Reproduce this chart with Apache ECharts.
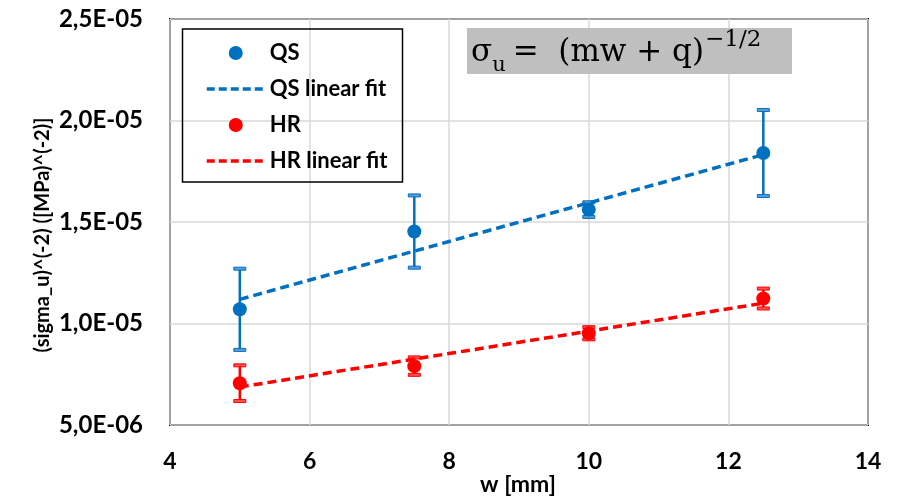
<!DOCTYPE html>
<html>
<head>
<meta charset="utf-8">
<script src="https://cdn.jsdelivr.net/npm/echarts@6/dist/echarts.min.js"></script>
<style>
html,body{margin:0;padding:0;background:#fff;}
#chart{width:897px;height:496px;}
</style>
</head>
<body>
<div id="chart"></div>
<script>
// ---- data ----
const widths = [5, 7.5, 10, 12.5];
const qsMean = [1.07e-5, 1.453e-5, 1.561e-5, 1.84e-5];
const qsErr  = [2.0e-6, 1.78e-6, 0.36e-6, 2.12e-6];
const hrMean = [7.06e-6, 7.9e-6, 9.52e-6, 1.123e-5];
const hrErr  = [0.88e-6, 0.43e-6, 0.3e-6, 0.49e-6];
const fitX   = [5, 12.5];
const qsFitY = [1.119e-5, 1.832e-5];
const hrFitY = [6.87e-6, 1.10e-5];
const xTicks = {min: 4, max: 14, interval: 2};
const yTicks = {min: 5e-6, max: 2.5e-5, interval: 5e-6};
const legendNames = ['QS', 'QS linear fit', 'HR', 'HR linear fit'];
const xName = 'w [mm]';
const yName = '(sigma_u)^(-2) ([MPa)^(-2)]';

const BLUE = '#0070C0', RED = '#FF0000';
const FONT = 'Lato';

function pairs(xs, ys) { return xs.map((x, i) => [x, ys[i]]); }
function errData(xs, m, e) { return xs.map((x, i) => [x, m[i] - e[i], m[i] + e[i]]); }
function fmtY(v) {
  const s = v.toExponential(1);
  const parts = s.split('e');
  const ex = parseInt(parts[1], 10);
  return parts[0].replace('.', ',') + 'E' + (ex < 0 ? '-' : '+') + String(Math.abs(ex)).padStart(2, '0');
}
function errSeries(name, data, color, capFill) {
  return {
    name: name, type: 'custom', z: 3,
    renderItem: function (params, api) {
      const x = api.value(0);
      const lo = api.coord([x, api.value(1)]);
      const hi = api.coord([x, api.value(2)]);
      const hw = 6;
      return {
        type: 'group',
        children: [
          {type: 'line', shape: {x1: lo[0], y1: lo[1], x2: hi[0], y2: hi[1]}, style: {stroke: color, lineWidth: 2.5}},
          {type: 'rect', shape: {x: hi[0] - hw, y: hi[1] - 1.5, width: hw * 2, height: 3}, style: {fill: capFill, stroke: color, lineWidth: 1}},
          {type: 'rect', shape: {x: lo[0] - hw, y: lo[1] - 1.5, width: hw * 2, height: 3}, style: {fill: capFill, stroke: color, lineWidth: 1}}
        ]
      };
    },
    encode: {x: 0, y: [1, 2]},
    data: data
  };
}

// formula layout helper (text measuring only)
const mctx = document.createElement('canvas').getContext('2d');
function textW(str, font) { mctx.font = font; return mctx.measureText(str).width; }
const F_MAIN = '31px "DejaVu Serif"', F_SUB = '21px "DejaVu Serif"', F_SUP = '23px "DejaVu Serif"';
const sigX = 471;
const subX = sigX + textW('σ', F_MAIN);
const eqX = subX + textW('u', F_SUB) + 7;
const supX = eqX + textW('=  (mw + q)', F_MAIN) + 1;

const legendLine = {width: 3.5, type: [8, 4]};

const chart = echarts.init(document.getElementById('chart'));
chart.setOption({
  backgroundColor: '#fff',
  animation: false,
  grid: {left: 170, right: 29, top: 19, bottom: 71, show: true, borderColor: '#000', borderWidth: 2, backgroundColor: 'transparent'},
  xAxis: {
    type: 'value', min: xTicks.min, max: xTicks.max, interval: xTicks.interval,
    axisLine: {show: false}, axisTick: {show: false},
    splitLine: {show: true, lineStyle: {color: '#d9d9d9', width: 1.5}},
    axisLabel: {color: '#000', fontFamily: FONT, fontWeight: 'bold', fontSize: 23, margin: 25}
  },
  yAxis: {
    type: 'value', min: yTicks.min, max: yTicks.max, interval: yTicks.interval,
    axisLine: {show: false}, axisTick: {show: false},
    splitLine: {show: true, lineStyle: {color: '#d9d9d9', width: 1.5}},
    axisLabel: {color: '#000', fontFamily: FONT, fontWeight: 'bold', fontSize: 24, margin: 27, formatter: fmtY}
  },
  legend: {
    data: [
      {name: legendNames[0], icon: 'circle'},
      {name: legendNames[1], itemStyle: {opacity: 0}, lineStyle: legendLine},
      {name: legendNames[2], icon: 'circle'},
      {name: legendNames[3], itemStyle: {opacity: 0}, lineStyle: legendLine}
    ],
    orient: 'vertical', left: 200, top: 37,
    itemWidth: 58, itemHeight: 14, itemGap: 14,
    textStyle: {color: '#000', fontFamily: FONT, fontWeight: 'bold', fontSize: 22},
    selectedMode: false
  },
  graphic: [
    {type: 'rect', z: 100, shape: {x: 182.5, y: 29, width: 220, height: 153}, style: {fill: 'none', stroke: '#000', lineWidth: 1.5}},
    {type: 'rect', z: 100, shape: {x: 467, y: 28, width: 325, height: 46}, style: {fill: '#bfbfbf'}},
    {type: 'text', z: 101, style: {text: 'σ', x: sigX, y: 53, fill: '#000', font: F_MAIN, align: 'left', verticalAlign: 'middle'}},
    {type: 'text', z: 101, style: {text: 'u', x: subX, y: 66, fill: '#000', font: F_SUB, align: 'left', verticalAlign: 'middle'}},
    {type: 'text', z: 101, style: {text: '=  (mw + q)', x: eqX, y: 53, fill: '#000', font: F_MAIN, align: 'left', verticalAlign: 'middle'}},
    {type: 'text', z: 101, style: {text: '−1/2', x: supX, y: 40, fill: '#000', font: F_SUP, align: 'left', verticalAlign: 'middle'}},
    {type: 'text', z: 101, style: {text: xName, x: 518, y: 485, fill: '#000', font: 'bold 23px Lato', align: 'center', verticalAlign: 'middle'}},
    {type: 'text', z: 101, rotation: Math.PI / 2, x: 43, y: 235, style: {text: yName, x: 0, y: 0, fill: '#000', font: 'bold 20px Lato', align: 'center', verticalAlign: 'middle'}}
  ],
  series: [
    errSeries('QS err', errData(widths, qsMean, qsErr), BLUE, '#5b9bd5'),
    errSeries('HR err', errData(widths, hrMean, hrErr), RED, '#ff5050'),
    {name: 'QS', type: 'scatter', z: 4, symbol: 'circle', symbolSize: 14, itemStyle: {color: BLUE, opacity: 1}, data: pairs(widths, qsMean)},
    {name: 'QS linear fit', type: 'line', z: 5, symbol: 'none', lineStyle: {color: BLUE, width: 3.5, type: [9, 5]}, itemStyle: {color: BLUE}, data: pairs(fitX, qsFitY)},
    {name: 'HR', type: 'scatter', z: 4, symbol: 'circle', symbolSize: 14, itemStyle: {color: RED, opacity: 1}, data: pairs(widths, hrMean)},
    {name: 'HR linear fit', type: 'line', z: 5, symbol: 'none', lineStyle: {color: RED, width: 3.5, type: [9, 5]}, itemStyle: {color: RED}, data: pairs(fitX, hrFitY)}
  ]
});
</script>
</body>
</html>
